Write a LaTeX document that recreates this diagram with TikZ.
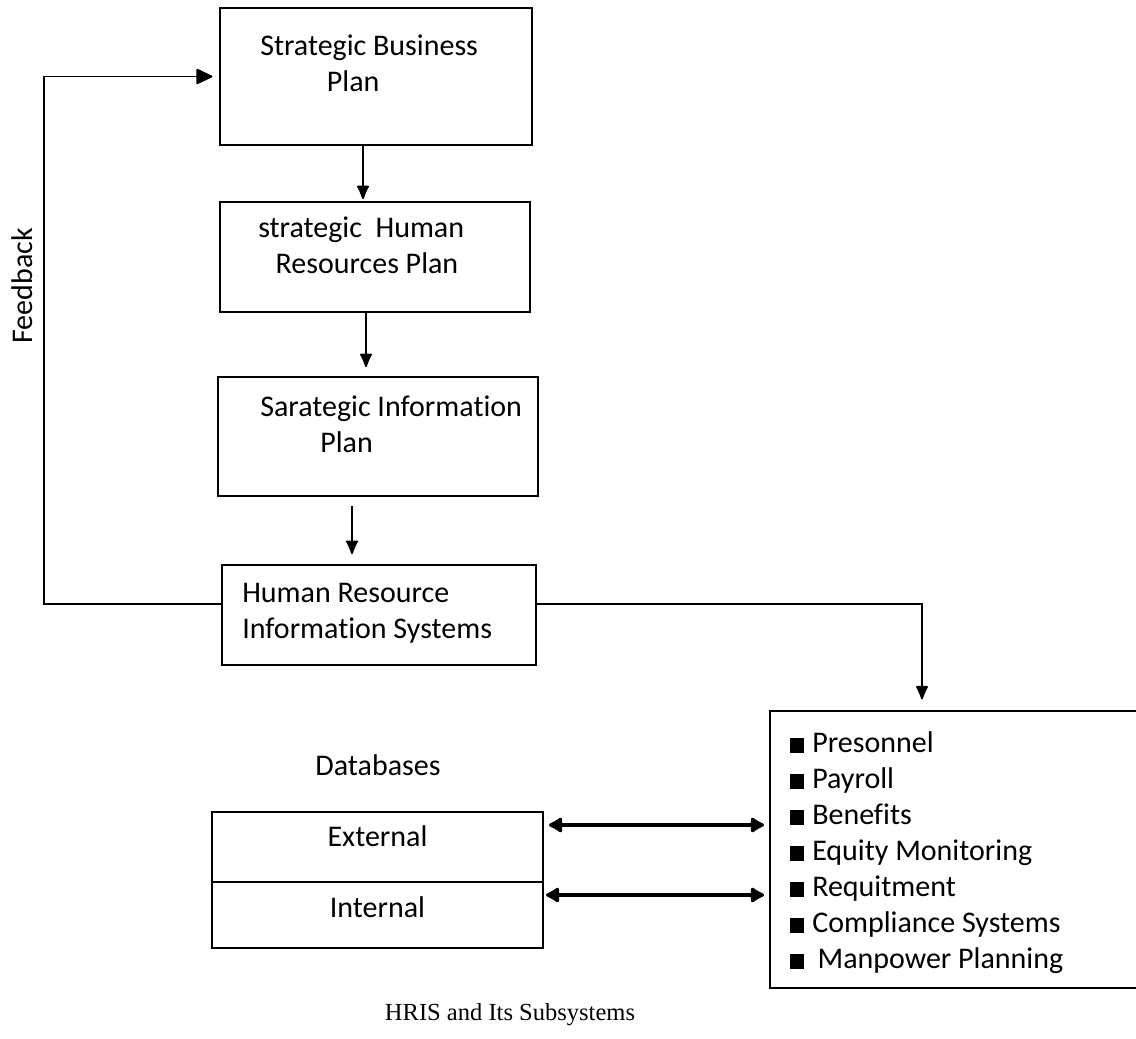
\documentclass[tikz,border=0pt]{standalone}
\usepackage{fontspec}
\setmainfont{Carlito}[Ligatures=NoCommon]
\newfontfamily\capfont{Liberation Serif}
\usetikzlibrary{calc}
\usetikzlibrary{arrows.meta}
\usetikzlibrary{fit}
\usetikzlibrary{positioning}
\tikzset{>=latex}
\tikzstyle{box} = [draw, line width=1.4pt, inner sep=0, font=\fontsize{22.5}{27}\selectfont]
\tikzstyle{txt} = [draw=none, inner sep=0, align=left, font=\fontsize{22.5}{27}\selectfont]
\tikzstyle{arr} = [-{Latex[length=12pt, width=10pt, round]}, line width=1.4pt]
\tikzstyle{dbl} = [{Latex[length=12pt, width=14pt, round]}-{Latex[length=12pt, width=14pt, round]}, line width=3.4pt]
\newcommand{\blt}{\rule[0pt]{10.5pt}{11pt}\hspace{6pt}}

\begin{document}
\begin{tikzpicture}[x=0.75pt, y=-0.75pt]
\useasboundingbox (0,0) rectangle (1136,1039);
% plans
\node [box, fit={(220,8) (532,145)}] (SBP) {};
\node [txt, anchor=west] (t1) at (260,63) {Strategic Business\\\hspace*{50pt}Plan};
\node [box, fit={(220,202) (530,312)}] (SHRP) {};
\node [txt, anchor=west] (t2) at (258,245) {strategic~~Human\\\hspace*{13pt}Resources Plan};
\node [box, fit={(218,377) (538,496)}] (SIP) {};
\node [txt, anchor=west] (t3) at (260,424) {Sarategic Information\\\hspace*{45pt}Plan};
\node [box, fit={(222,565) (536,665)}] (HRIS) {};
\node [txt, anchor=west] (t4) at (242,613) {Human Resource\\Information Systems};
\draw [arr] ($(SBP.south)+(-13,0)$) -- ($(SHRP.north)+(-12,-2)$);
\draw [arr] ($(SHRP.south)+(-9,0)$) -- ($(SIP.north)+(-12,-9)$);
\draw [arr] ($(SIP.south)+(-26,9)$) -- ($(HRIS.north)+(-27,-10)$);
% feedback
\draw [-{Triangle[length=13pt, width=12pt, round]}, line width=1.4pt, shorten >=5pt]
  ($(HRIS.west)+(0,-11)$) -- ($(HRIS.west)+(-177,-11)$) |- (SBP.west);
\node [txt, rotate=90] (fb) at (22,286) {Feedback};
% subsystems
\node [box, fit={(770,711) (1146,988)}] (SUB) {};
\node [txt, anchor=west] (list) at (790,853) {%
  \blt Presonnel\\
  \blt Payroll\\
  \blt Benefits\\
  \blt Equity Monitoring\\
  \blt Requitment\\
  \blt Compliance Systems\\
  \blt\hspace{4pt}Manpower Planning};
\draw [arr, shorten >=8pt] ($(HRIS.east)+(0,-11)$) -| ($(SUB.north)+(-36,0)$);
% databases
\node [txt] (db) at (378,765) {Databases};
\node [box, fit={(212,812) (543,882)}] (EXT) {External};
\node [box, fit={(212,882) (543,948)}] (INT) {\raisebox{-4.5pt}{Internal}};
\draw [dbl] ($(EXT.east)+(5,-22)$) -- ($(SUB.west |- EXT.east)+(-5,-22)$);
\draw [dbl] ($(INT.east)+(2,-20)$) -- ($(SUB.west |- INT.east)+(-5,-20)$);
% caption
\node [draw=none, font=\capfont\fontsize{18.4}{22}\selectfont] (cap) at (510,1015) {HRIS and Its Subsystems};
\end{tikzpicture}
\end{document}
